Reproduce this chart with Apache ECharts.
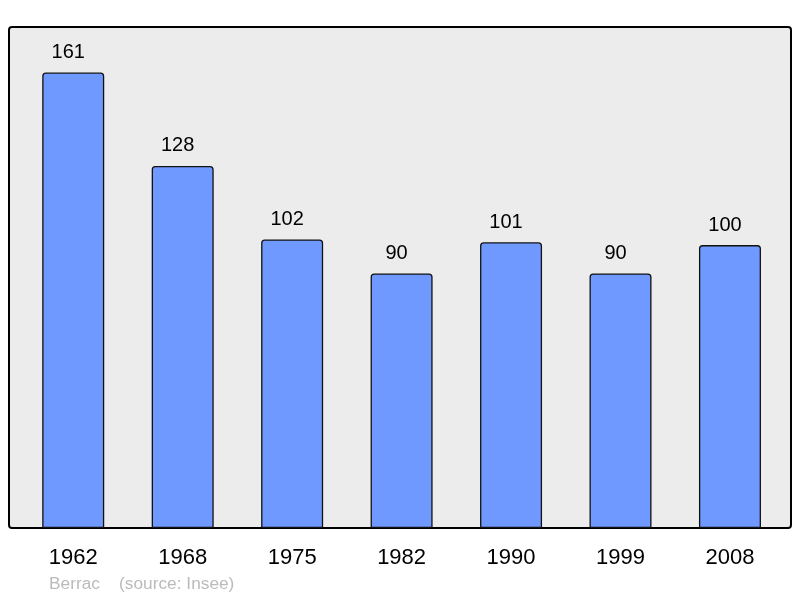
<!DOCTYPE html>
<html>
<head>
<meta charset="utf-8">
<script src="https://cdn.jsdelivr.net/npm/echarts@6/dist/echarts.min.js"></script>
<style>html,body{margin:0;padding:0;background:#fff}#c{width:800px;height:598px}</style>
</head>
<body>
<div id="c"></div>
<script>
var years = ['1962', '1968', '1975', '1982', '1990', '1999', '2008'];
var population = [161, 128, 102, 90, 101, 90, 100];
var sourceText = 'Berrac    (source: Insee)';

var chart = echarts.init(document.getElementById('c'), null, {renderer: 'canvas'});
chart.setOption({
  animation: false,
  backgroundColor: '#ffffff',
  textStyle: {fontFamily: 'Liberation Sans, Arial, sans-serif'},
  title: {
    text: sourceText,
    left: 49, top: 576,
    padding: 0,
    textStyle: {fontSize: 17.3, fontWeight: 'normal', color: '#bbbbbb', fontFamily: 'Liberation Sans, Arial, sans-serif'}
  },
  graphic: [{
    type: 'rect', z: -10, silent: true,
    shape: {x: 9, y: 27, width: 782, height: 501, r: 3},
    style: {fill: '#ececec', stroke: '#000000', lineWidth: 2}
  }],
  grid: {left: 18.5, top: 27, width: 766.2, height: 501, containLabel: false},
  xAxis: {
    type: 'category', data: years,
    axisLine: {show: false}, axisTick: {show: false},
    axisLabel: {fontSize: 22, color: '#000', margin: 19, fontFamily: 'Liberation Sans, Arial, sans-serif'}
  },
  yAxis: {
    type: 'value', min: 0, max: 177.1,
    show: false, splitLine: {show: false}
  },
  series: [{
    type: 'bar', data: population, barWidth: 62, z: 2,
    itemStyle: {color: '#7099ff', borderColor: '#111', borderWidth: 1.3, borderRadius: [3, 3, 0, 0]},
    label: {show: true, position: 'top', distance: 10, offset: [-5, 0], fontSize: 20, color: '#000', fontFamily: 'Liberation Sans, Arial, sans-serif'}
  }]
});
</script>
</body>
</html>
